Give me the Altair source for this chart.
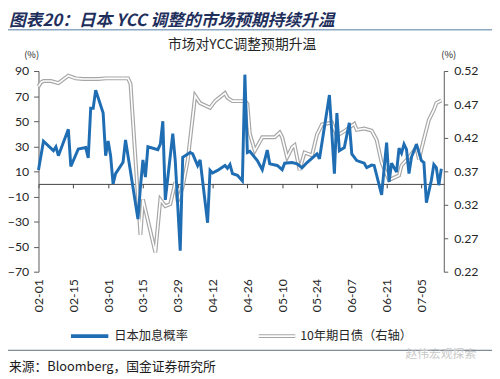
import altair as alt
import pandas as pd

# ---------------- data ----------------
prob_dates = [
    "2023-02-01", "2023-02-03", "2023-02-07", "2023-02-08", "2023-02-09", "2023-02-13",
    "2023-02-14", "2023-02-15", "2023-02-17", "2023-02-20", "2023-02-21", "2023-02-22",
    "2023-02-23", "2023-02-24", "2023-02-27", "2023-02-28", "2023-03-01", "2023-03-02",
    "2023-03-03", "2023-03-04", "2023-03-07", "2023-03-08", "2023-03-13", "2023-03-14",
    "2023-03-15", "2023-03-16", "2023-03-17", "2023-03-21", "2023-03-22", "2023-03-23",
    "2023-03-24", "2023-03-27", "2023-03-28", "2023-03-30", "2023-03-31", "2023-04-03",
    "2023-04-04", "2023-04-06", "2023-04-07", "2023-04-10", "2023-04-11", "2023-04-12",
    "2023-04-14", "2023-04-17", "2023-04-18", "2023-04-19", "2023-04-20", "2023-04-22",
    "2023-04-24", "2023-04-25", "2023-04-26", "2023-04-27", "2023-04-30", "2023-05-02",
    "2023-05-04", "2023-05-05", "2023-05-08", "2023-05-10", "2023-05-11", "2023-05-14",
    "2023-05-16", "2023-05-18", "2023-05-20", "2023-05-24", "2023-05-25", "2023-05-29",
    "2023-05-31", "2023-06-01", "2023-06-02", "2023-06-04", "2023-06-06", "2023-06-07",
    "2023-06-09", "2023-06-12", "2023-06-13", "2023-06-15", "2023-06-16", "2023-06-19",
    "2023-06-21", "2023-06-22", "2023-06-23", "2023-06-25", "2023-06-26", "2023-06-27",
    "2023-06-28", "2023-06-29", "2023-06-30", "2023-07-01", "2023-07-03", "2023-07-05",
    "2023-07-06", "2023-07-07", "2023-07-09", "2023-07-10", "2023-07-11", "2023-07-12",
    "2023-07-13",
]
prob_values = [
    11, 34, 26.5, 29.6, 22.5, 43.5,
    14, 18.6, 27.8, 29, 20.7, 60.4,
    60.4, 74.8, 56.5, 22.5, 34.3, 22.5,
    0, 8.2, 17.3, 35, -28, -2.3,
    19.1, 5.5, 29.6, 27.3, 31.7, 50,
    -12.7, 40, 18.6, -53.3, 21.2, 25.1,
    24, 14.7, 19.1, -31, 10.8, 8.7,
    10.8, 14.7, 12.5, 15.5, 8.2, 6.9,
    2.4, 87.1, 25.1, 26, 18.6, 11.3,
    27, 16, 14.7, 11.3, 16.5, 17,
    16, 12.9, 17, 23.9, 20, 70.9,
    8.2, 56.5, 26.5, 29, 48.7, 23.9,
    18.6, 16.5, 13, 15, 14.7, -8.8,
    33, 1.6, 16.5, 9.5, 28.6, 24.5,
    31.7, 27.5, 8.2, 21.2, 31.7, 18.6,
    17, -14.9, 2.9, 15.5, 13, -1,
    12.1,
]

jgb_dates = [
    "2023-02-01", "2023-02-02", "2023-02-03", "2023-02-06", "2023-02-09", "2023-02-13",
    "2023-02-16", "2023-02-19", "2023-02-25", "2023-02-28", "2023-03-08", "2023-03-09",
    "2023-03-10", "2023-03-14", "2023-03-15", "2023-03-20", "2023-03-22", "2023-03-24",
    "2023-03-26", "2023-03-28", "2023-03-29", "2023-03-31", "2023-04-02", "2023-04-05",
    "2023-04-07", "2023-04-11", "2023-04-13", "2023-04-17", "2023-04-18", "2023-04-20",
    "2023-04-25", "2023-04-26", "2023-04-27", "2023-04-29", "2023-05-02", "2023-05-07",
    "2023-05-09", "2023-05-10", "2023-05-12", "2023-05-14", "2023-05-15", "2023-05-17",
    "2023-05-19", "2023-05-22", "2023-05-24", "2023-05-26", "2023-05-30", "2023-06-01",
    "2023-06-04", "2023-06-08", "2023-06-09", "2023-06-12", "2023-06-15", "2023-06-17",
    "2023-06-19", "2023-06-22", "2023-06-26", "2023-06-27", "2023-06-30", "2023-07-03",
    "2023-07-04", "2023-07-06", "2023-07-08", "2023-07-10", "2023-07-11", "2023-07-13",
]
jgb_values = [
    0.497, 0.503, 0.505, 0.505, 0.502, 0.513,
    0.509, 0.508, 0.508, 0.509, 0.509, 0.509,
    0.501, 0.275, 0.328, 0.249, 0.328, 0.318,
    0.321, 0.354, 0.325, 0.347, 0.386, 0.483,
    0.472, 0.465, 0.475, 0.487, 0.480, 0.475,
    0.475, 0.471, 0.426, 0.401, 0.421, 0.421,
    0.428, 0.421, 0.391, 0.406, 0.409, 0.372,
    0.398, 0.394, 0.425, 0.440, 0.443, 0.423,
    0.430, 0.441, 0.432, 0.434, 0.431, 0.417,
    0.383, 0.357, 0.364, 0.379, 0.391, 0.406,
    0.388, 0.418, 0.447, 0.462, 0.472, 0.476,
]

tick_dates = ["02-01", "02-15", "03-01", "03-15", "03-29", "04-12",
              "04-26", "05-10", "05-24", "06-07", "06-21", "07-05"]
left_ticks = [-70, -50, -30, -10, 10, 30, 50, 70, 90]
right_ticks = [0.22, 0.27, 0.32, 0.37, 0.42, 0.47, 0.52]

header_text = "图表20：日本 YCC 调整的市场预期持续升温"
title_text = "市场对YCC调整预期升温"
series_names = ["日本加息概率", "10年期日债（右轴）"]
source_text = "来源：Bloomberg，国金证券研究所"
watermark_text = "赵伟宏观探索"

# ---------------- styling ----------------
W, H = 412, 204
BLUE = "#1F6DB3"
GRAY = "#A6A6A6"
AXIS = "#595959"
LABEL = "#262626"
NUM_FONT = "Lato"
CJK_FONT = "Noto Sans CJK SC"

prob_df = pd.DataFrame({"date": prob_dates, "prob": prob_values})
jgb_df = pd.DataFrame({"date": jgb_dates, "yld": jgb_values})

tick_vals = [alt.DateTime(year=2023, month=int(t[:2]), date=int(t[3:]), utc=True) for t in tick_dates]
x_scale = alt.Scale(type="utc",
                    domain=[alt.DateTime(year=2023, month=2, date=1, utc=True),
                            alt.DateTime(year=2023, month=7, date=14, utc=True)])
zero_offset = -(H - (90 - 0) / 160 * H)

left_scale = alt.Scale(domain=[-70, 90], nice=False, zero=False)
right_scale = alt.Scale(domain=[0.22, 0.52], nice=False, zero=False)

blue = alt.Chart(prob_df).mark_line(color=BLUE, strokeWidth=3, strokeJoin="miter", strokeMiterLimit=3).encode(
    x=alt.X("date:T", scale=x_scale,
            axis=alt.Axis(orient="bottom", values=tick_vals, format="%m-%d", labelAngle=270,
                          domain=False, ticks=False, tickSize=0, grid=False, title=None,
                          labelPadding=7, labelFont=NUM_FONT, labelFontSize=12.5,
                          labelColor=LABEL, labelOverlap=False)),
    y=alt.Y("prob:Q", scale=left_scale,
            axis=alt.Axis(orient="left", values=left_ticks, grid=False, title=None,
                          domain=True, domainColor=AXIS, ticks=True, tickColor=AXIS, tickSize=5,
                          labelPadding=5, labelFont=NUM_FONT, labelFontSize=12.5,
                          labelColor=LABEL)),
)

gray_outer = alt.Chart(jgb_df).mark_line(color=GRAY, strokeWidth=4).encode(
    x=alt.X("date:T", scale=x_scale,
            axis=alt.Axis(orient="bottom", values=tick_vals, offset=zero_offset, labels=False,
                          domain=True, domainColor="#404040", ticks=True, tickColor="#404040",
                          tickSize=4, grid=False, title=None)),
    y=alt.Y("yld:Q", scale=right_scale,
            axis=alt.Axis(orient="right", values=right_ticks, format=".2f", grid=False, title=None,
                          domain=True, domainColor=AXIS, ticks=True, tickColor=AXIS, tickSize=4,
                          labelPadding=6, labelFont=NUM_FONT, labelFontSize=12.5,
                          labelColor=LABEL)),
)
gray_inner = alt.Chart(jgb_df).mark_line(color="white", strokeWidth=1.6).encode(
    x=alt.X("date:T", scale=x_scale, axis=None),
    y=alt.Y("yld:Q", scale=right_scale, axis=None),
)

one = pd.DataFrame({"k": [0]})


def text(t, x, y, **kw):
    return alt.Chart(one).mark_text(text=t, **kw).encode(x=alt.value(x), y=alt.value(y))


def hline(x1, x2, y, color, width):
    return alt.Chart(one).mark_rule(color=color, strokeWidth=width).encode(
        x=alt.value(x1), x2=alt.value(x2), y=alt.value(y))


decor = [
    text(header_text, -30, -51, align="left", baseline="middle", font=CJK_FONT,
         fontSize=17, fontWeight="bold", fontStyle="italic", color="#1F2F5C"),
    hline(-31, 461, -42, "#8EA7C2", 1.5),
    text(title_text, 207, -26, align="center", baseline="middle", font=CJK_FONT,
         fontSize=14, color=LABEL),
    text("(%)", -7, -16, align="center", baseline="middle", font=CJK_FONT, fontSize=9.5, color=LABEL),
    text("(%)", 417, -16, align="center", baseline="middle", font=CJK_FONT, fontSize=9.5, color=LABEL),
    hline(33, 71, 269.5, BLUE, 4),
    text(series_names[0], 77, 269.5, align="left", baseline="middle", font=CJK_FONT,
         fontSize=12.5, color=LABEL),
    hline(224, 261, 269.5, GRAY, 4),
    hline(224, 261, 269.5, "white", 1.6),
    text(series_names[1], 266, 269.5, align="left", baseline="middle", font=CJK_FONT,
         fontSize=12.5, color=LABEL),
    hline(-31, 461, 284, "#7F8C99", 1.2),
    text(source_text, -30, 301, align="left", baseline="middle", font=CJK_FONT,
         fontSize=13, color="#1a1a1a"),
    text(watermark_text, 373, 288, align="left", baseline="middle", font=CJK_FONT,
         fontSize=12, color="#C8C8C8"),
]

chart = alt.layer(gray_outer, gray_inner, blue, *decor).resolve_scale(
    y="independent"
).resolve_axis(
    x="independent"
).properties(
    width=W, height=H,
    autosize=alt.AutoSizeParams(type="none"),
    padding={"left": 31, "top": 61, "right": 49, "bottom": 106},
    background="white",
).configure_view(stroke=None)

chart.save("out.html", embed_options={"renderer": "svg", "actions": False})
